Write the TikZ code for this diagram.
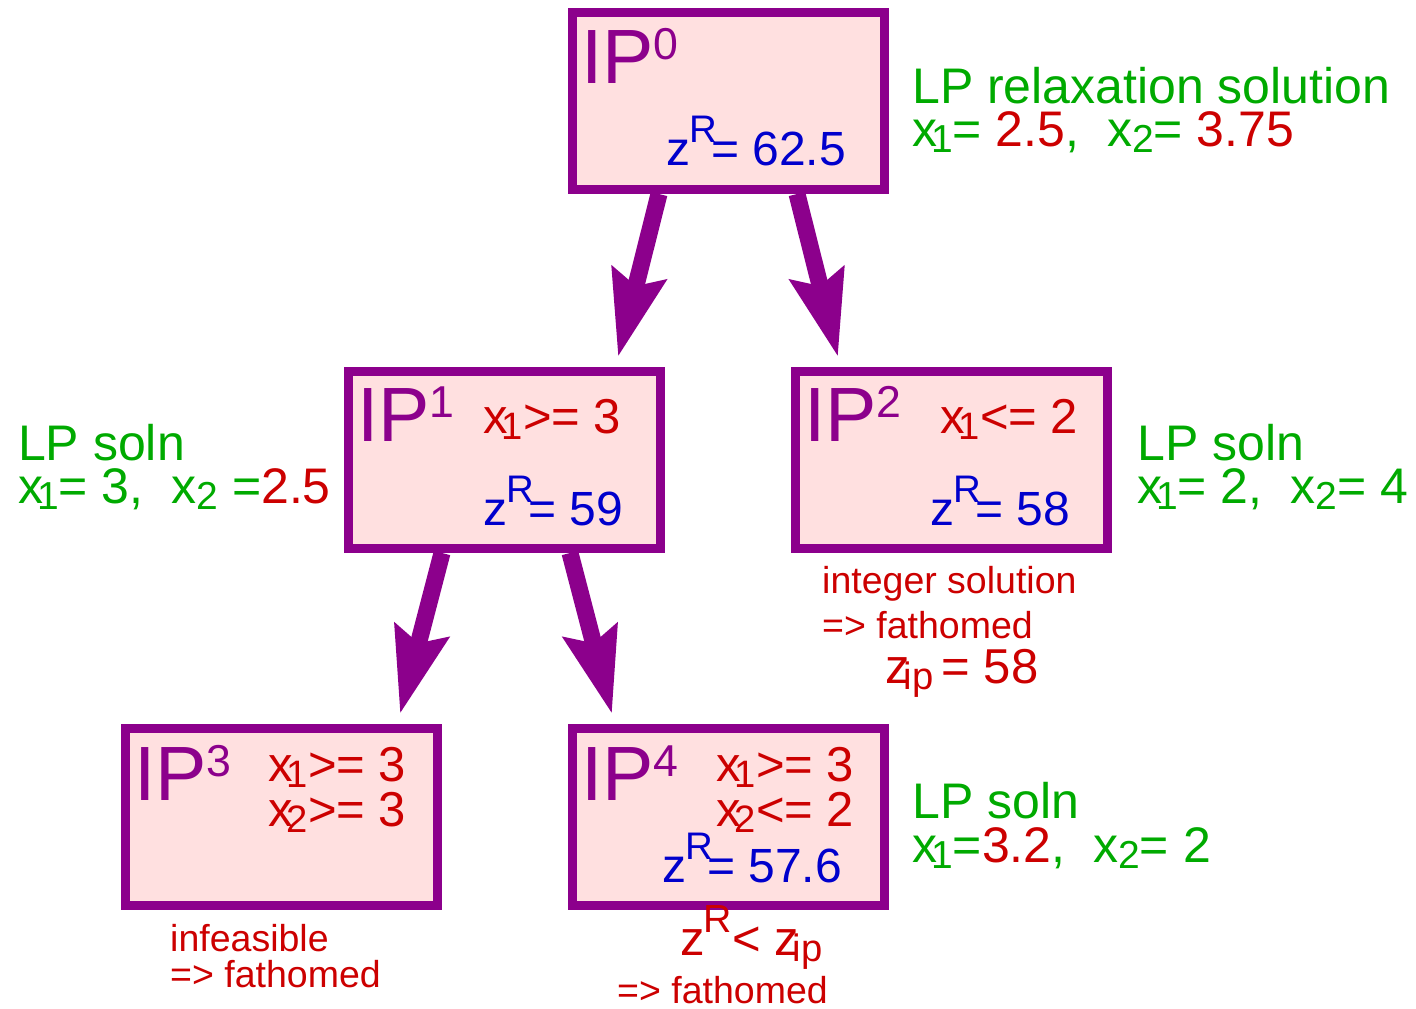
\documentclass[tikz,border=0pt]{standalone}
\usepackage{fontspec}
\setmainfont{Liberation Sans}
\usetikzlibrary{arrows.meta}
\definecolor{bbpurple}{RGB}{140,0,140}
\definecolor{bbpink}{RGB}{255,224,224}
\definecolor{bbgreen}{RGB}{0,170,0}
\definecolor{bbred}{RGB}{204,0,0}
\definecolor{bbblue}{RGB}{0,0,204}
\newcommand\hi[1]{\raisebox{0.30em}{\scalebox{0.58}{#1}}}
\newcommand\lo[1]{\kern-0.12em\raisebox{-0.13em}{\scalebox{0.78}{#1}}}
\newcommand\lotwo[1]{\raisebox{-0.13em}{\scalebox{0.78}{#1}}}
\newcommand\zR{z\kern-0.02em\raisebox{0.46em}{\scalebox{0.8}{R}}\kern-0.12em}

\begin{document}
\begin{tikzpicture}[x=1pt,y=-1pt]
  \tikzstyle{ipbox}=[rectangle,
                     line width=9pt,
                     minimum width=312pt,
                     minimum height=177pt,
                     draw=bbpurple,
                     fill=bbpink]
  \tikzstyle{branch}=[-{Stealth[length=85pt,width=54pt,inset=12pt]},
                     line width=17pt,
                     draw=bbpurple]
  \tikzstyle{txt}=[anchor=base west,inner sep=0pt]
  \tikzstyle{iptext}=[txt,text=bbpurple,font=\fontsize{77}{77}\selectfont]
  \tikzstyle{cons}=[txt,text=bbred,font=\fontsize{49}{49}\selectfont]
  \tikzstyle{bound}=[txt,text=bbblue,font=\fontsize{48}{48}\selectfont]
  \tikzstyle{lpsoln}=[txt,text=bbgreen,font=\fontsize{50}{50}\selectfont]
  \tikzstyle{note}=[txt,text=bbred,font=\fontsize{37.5}{37.5}\selectfont]
  \useasboundingbox (0,0) rectangle (1416,1009);
  %Cajas
  \node[ipbox] (IP0) [shift={(728,101)}] {};
  \node[ipbox] (IP1) [shift={(504,460)}] {};
  \node[ipbox] (IP2) [shift={(951,460)}] {};
  \node[ipbox] (IP3) [shift={(281,817)}] {};
  \node[ipbox] (IP4) [shift={(728,817)}] {};
  %Ramas
  \draw[branch] ([xshift=-69pt]IP0.south) -- ([shift={(114,-10)}]IP1.north);
  \draw[branch] ([xshift=69pt]IP0.south) -- ([shift={(-113,-10)}]IP2.north);
  \draw[branch] ([xshift=-62pt]IP1.south) -- ([shift={(119,-10)}]IP3.north);
  \draw[branch] ([xshift=66pt]IP1.south) -- ([shift={(-116,-10)}]IP4.north);
  %Nodo 0
  \node[iptext] (N0) [shift={(581,83)}] {IP\hi{0}};
  \node[bound] (Z0) [shift={(666,165)}] {\zR= 62.5};
  \node[lpsoln] (L0a) [shift={(912,103)}] {LP relaxation solution};
  \node[lpsoln] (L0b) [shift={(912,146)}] {x\lo{1}= \textcolor{bbred}{2.5},\ \ x\lotwo{2}= \textcolor{bbred}{3.75}};
  %Nodo 1
  \node[iptext] (N1) [shift={(357,441)}] {IP\hi{1}};
  \node[cons] (C1) [shift={(483,433)}] {x\lo{1}>= 3};
  \node[bound] (Z1) [shift={(483,525)}] {\zR= 59};
  \node[lpsoln] (L1a) [shift={(18,460)}] {LP soln};
  \node[lpsoln] (L1b) [shift={(18,503)}] {x\lo{1}= 3,\ \ x\lotwo{2} =\textcolor{bbred}{2.5}};
  %Nodo 2
  \node[iptext] (N2) [shift={(804,441)}] {IP\hi{2}};
  \node[cons] (C2) [shift={(940,433)}] {x\lo{1}<= 2};
  \node[bound] (Z2) [shift={(930,525)}] {\zR= 58};
  \node[lpsoln] (L2a) [shift={(1137,460)}] {LP soln};
  \node[lpsoln] (L2b) [shift={(1137,503)}] {x\lo{1}= 2,\ \ x\lotwo{2}= 4};
  \node[note] (F2a) [shift={(822,593)}] {integer solution};
  \node[note] (F2b) [shift={(822,638)}] {=> fathomed};
  \node[cons] (F2c) [shift={(885,683)}] {z\lo{ip}\,= 58};
  %Nodo 3
  \node[iptext] (N3) [shift={(134,800)}] {IP\hi{3}};
  \node[cons] (C3a) [shift={(268,781)}] {x\lo{1}>= 3};
  \node[cons] (C3b) [shift={(268,826)}] {x\lo{2}>= 3};
  \node[note] (F3a) [shift={(170,951)}] {infeasible};
  \node[note] (F3b) [shift={(170,987)}] {=> fathomed};
  %Nodo 4
  \node[iptext] (N4) [shift={(581,800)}] {IP\hi{4}};
  \node[cons] (C4a) [shift={(716,781)}] {x\lo{1}>= 3};
  \node[cons] (C4b) [shift={(716,826)}] {x\lo{2}<= 2};
  \node[bound] (Z4) [shift={(662,882)}] {\zR= 57.6};
  \node[lpsoln] (L4a) [shift={(912,818)}] {LP soln};
  \node[lpsoln] (L4b) [shift={(912,862)}] {x\lo{1}=\textcolor{bbred}{3.2},\ \ x\lotwo{2}= 2};
  \node[cons] (F4a) [shift={(680,955)}] {\zR\kern0.12em< z\lo{ip}};
  \node[note] (F4b) [shift={(617,1003)}] {=> fathomed};
\end{tikzpicture}
\end{document}
